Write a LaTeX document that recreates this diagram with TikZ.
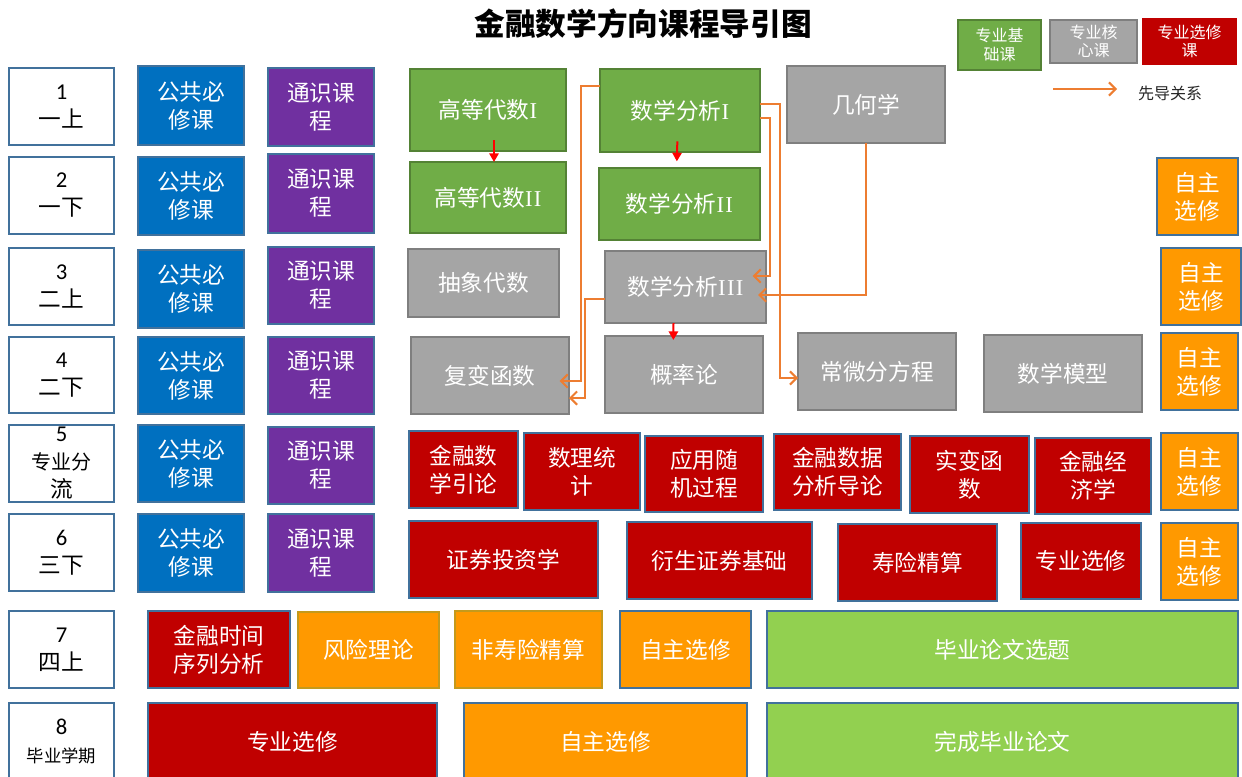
\documentclass[tikz,border=0pt]{standalone}
\usepackage{fontspec}
\setmainfont{Noto Sans CJK SC}
\newfontfamily\lser{Liberation Serif}
\newfontfamily\calib{Carlito}
\usetikzlibrary{arrows.meta}
\definecolor{cgreen}{HTML}{70AD47}
\definecolor{cgreenb}{HTML}{548235}
\definecolor{cgray}{HTML}{A5A5A5}
\definecolor{cgrayb}{HTML}{7F7F7F}
\definecolor{cred}{HTML}{C00000}
\definecolor{cblue}{HTML}{0070C0}
\definecolor{cpurple}{HTML}{7030A0}
\definecolor{corange}{HTML}{FF9900}
\definecolor{clgreen}{HTML}{92D050}
\definecolor{cbord}{HTML}{41719C}
\definecolor{carrow}{HTML}{ED7D31}
\definecolor{cgold}{HTML}{C49A1C}
\newcommand\mybox[7]{\node[#2, minimum width={(#5-#3)*0.75pt}, minimum height={(#6-#4)*0.75pt}] (#1) at ({(#3+#5)/2},{(#4+#6)/2}) {#7};}
\tikzset{
  box/.style={draw, line width=1pt, inner sep=0pt, outer sep=0pt, align=center, text=white, font=\fontsize{17}{21}\selectfont},
  lab/.style={box, fill=white, draw=cbord, text=black},
  gbox/.style={box, fill=cgreen, draw=cgreenb},
  graybox/.style={box, fill=cgray, draw=cgrayb},
  rbox/.style={box, fill=cred, draw=cbord},
  bbox/.style={box, fill=cblue, draw=cbord},
  pbox/.style={box, fill=cpurple, draw=cbord},
  obox/.style={box, fill=corange, draw=cbord},
  o2box/.style={box, fill=corange, draw=cgold},
  lgbox/.style={box, fill=clgreen, draw=cbord},
  legfont/.style={font=\fontsize{12}{14}\selectfont},
  oarr/.style={draw=carrow, line width=1.5pt, -{Straight Barb[length=5pt,width=10pt]}},
  rarr/.style={draw=red, line width=1.5pt, -{Triangle[length=6.5pt,width=7pt]}}
}
\begin{document}
\begin{tikzpicture}[x=0.75pt,y=-0.75pt]
\useasboundingbox (0,0) rectangle (1242,776);
\node[font=\fontsize{23}{27}\selectfont\bfseries] (title) at (643,24) {金融数学方向课程导引图};
% legend
\mybox{lg1}{gbox,legfont}{958}{20}{1041}{70}{专业基\\础课}
\mybox{lg2}{graybox,legfont}{1050}{20}{1137}{63}{专业核\\心课}
\mybox{lg3}{box,fill=cred,draw=cred,legfont}{1143}{19}{1236}{64}{专业选修\\课}
\coordinate (la1) at (1053,89);
\coordinate (la2) at (1117,89);
\draw[oarr] (la1) -- (la2);
\node[legfont, text=black!85] (lt) at (1170,93) {先导关系};
% row labels
\mybox{l1}{lab}{9}{68}{114}{145}{{\calib 1}\\一上}
\mybox{l2}{lab}{9}{157}{114}{234}{{\calib 2}\\一下}
\mybox{l3}{lab}{9}{248}{114}{325}{{\calib 3}\\二上}
\mybox{l4}{lab}{9}{337}{114}{413}{{\calib 4}\\二下}
\mybox{l5}{lab}{9}{425}{114}{502}{{\calib 5}\\\fontsize{15}{18}\selectfont 专业分\\流}
\mybox{l6}{lab}{9}{514}{114}{591}{{\calib 6}\\三下}
\mybox{l7}{lab}{9}{611}{114}{688}{{\calib 7}\\四上}
\mybox{l8}{lab}{9}{703}{114}{780}{{\calib 8}\\\fontsize{13}{17}\selectfont 毕业学期}
% public / general
\mybox{b1}{bbox}{138}{66}{244}{145}{公共必\\修课}
\mybox{b2}{bbox}{138}{157}{244}{235}{公共必\\修课}
\mybox{b3}{bbox}{138}{250}{244}{328}{公共必\\修课}
\mybox{b4}{bbox}{138}{337}{244}{414}{公共必\\修课}
\mybox{b5}{bbox}{138}{425}{244}{502}{公共必\\修课}
\mybox{b6}{bbox}{138}{514}{244}{592}{公共必\\修课}
\mybox{p1}{pbox}{268}{68}{374}{146}{通识课\\程}
\mybox{p2}{pbox}{268}{154}{374}{233}{通识课\\程}
\mybox{p3}{pbox}{268}{247}{374}{324}{通识课\\程}
\mybox{p4}{pbox}{268}{337}{374}{414}{通识课\\程}
\mybox{p5}{pbox}{268}{427}{374}{504}{通识课\\程}
\mybox{p6}{pbox}{268}{514}{374}{592}{通识课\\程}
% rows 1-4
\mybox{ha1}{gbox}{410}{69}{566}{151}{高等代数{\lser I}}
\mybox{ha2}{gbox}{410}{162}{566}{233}{高等代数{\lser I\kern1pt I}}
\mybox{aa}{graybox}{408}{249}{559}{317}{抽象代数}
\mybox{fb}{graybox}{411}{337}{569}{414}{复变函数}
\mybox{ma1}{gbox}{600}{69}{760}{152}{数学分析{\lser I}}
\mybox{ma2}{gbox}{599}{168}{760}{240}{数学分析{\lser I\kern1pt I}}
\mybox{ma3}{graybox}{605}{251}{766}{323}{数学分析{\lser I\kern1pt I\kern1pt I}}
\mybox{pr}{graybox}{605}{336}{763}{413}{概率论}
\mybox{geo}{graybox}{787}{66}{945}{143}{几何学}
\mybox{ode}{graybox}{798}{333}{956}{410}{常微分方程}
\mybox{mm}{graybox}{984}{335}{1142}{412}{数学模型}
\mybox{zz2}{obox}{1157}{158}{1238}{235}{自主\\选修}
\mybox{zz3}{obox}{1161}{248}{1241}{325}{自主\\选修}
\mybox{zz4}{obox}{1161}{333}{1238}{410}{自主\\选修}
% row 5
\mybox{jr}{rbox}{409}{431}{518}{508}{金融数\\学引论}
\mybox{sl}{rbox}{524}{433}{640}{510}{数理统\\计}
\mybox{sj}{rbox}{645}{436}{763}{512}{应用随\\机过程}
\mybox{sjfx}{rbox}{774}{434}{901}{510}{金融数据\\分析导论}
\mybox{sb}{rbox}{910}{436}{1029}{513}{实变函\\数}
\mybox{jj}{rbox}{1035}{438}{1151}{514}{金融经\\济学}
\mybox{zz5}{obox}{1161}{433}{1238}{510}{自主\\选修}
% row 6
\mybox{zq}{rbox}{409}{521}{598}{598}{证券投资学}
\mybox{ys}{rbox}{627}{522}{812}{599}{衍生证券基础}
\mybox{sx}{rbox}{838}{524}{997}{601}{寿险精算}
\mybox{zy6}{rbox}{1021}{523}{1141}{599}{专业选修}
\mybox{zz6}{obox}{1161}{523}{1238}{600}{自主\\选修}
% row 7
\mybox{sjxl}{rbox}{148}{611}{290}{688}{金融时间\\序列分析}
\mybox{fx}{o2box}{298}{612}{439}{688}{风险理论}
\mybox{fsx}{o2box}{455}{611}{602}{688}{非寿险精算}
\mybox{zz7}{obox}{620}{611}{751}{688}{自主选修}
\mybox{xt}{lgbox}{767}{611}{1238}{688}{毕业论文选题}
% row 8
\mybox{zy8}{rbox}{148}{703}{437}{780}{专业选修}
\mybox{zz8}{obox}{464}{703}{747}{780}{自主选修}
\mybox{wc}{lgbox}{767}{703}{1238}{780}{完成毕业论文}
% red arrows
\draw[rarr] ([xshift=4.5pt,yshift=8pt]ha1.south) -- ([xshift=4.5pt]ha2.north);
\draw[rarr] ([xshift=-2pt,yshift=8pt]ma1.south) -- ([xshift=-2pt,yshift=5pt]ma2.north);
\draw[rarr] ([xshift=-9pt]ma3.south) -- ([xshift=-8pt,yshift=-3pt]pr.north);
% orange arrows
\draw[oarr, shorten >=-7pt] (ma1.west |- 0,86) -| (581,381) -- (fb.east |- 0,381);
\draw[oarr] (ma3.west |- 0,299) -| (585,398) -- (fb.east |- 0,398);
\draw[oarr] (ma1.east |- 0,104) -| (780,378) -- (ode.west |- 0,378);
\draw[oarr, shorten >=-10pt] (ma1.east |- 0,118) -| (770,276) -- (ma3.east |- 0,276);
\draw[oarr, shorten >=-6pt] (geo.south) |- (ma3.east |- 0,295);
\end{tikzpicture}
\end{document}
